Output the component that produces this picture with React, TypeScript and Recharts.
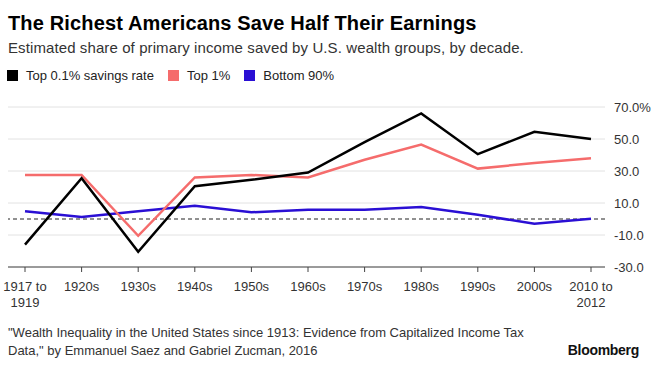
import React from "react";
import {
  LineChart,
  Line,
  XAxis,
  YAxis,
  CartesianGrid,
  ReferenceLine,
} from "recharts";

// Decades on the x axis ("\n" splits the two-line labels)
const decades = [
  "1917 to\n1919",
  "1920s",
  "1930s",
  "1940s",
  "1950s",
  "1960s",
  "1970s",
  "1980s",
  "1990s",
  "2000s",
  "2010 to\n2012",
];

// Savings rates, % of primary income
const top01 = [-16, 25.5, -20.5, 20.5, 24.5, 29, 48, 66, 40.5, 54.5, 50];
const top1 = [27.5, 27.5, -10.5, 26, 27.5, 26, 37, 46.5, 31.5, 35, 38];
const bottom90 = [4.8, 1.2, 4.8, 8.3, 4.2, 5.8, 5.8, 7.5, 2.7, -3, 0.2];

const yTicks = [-30, -20, -10, 0, 10, 20, 30, 40, 50, 60, 70];
const labelledTicks = [-30, -10, 10, 30, 50, 70];

const chartData = decades.map((d, i) => ({
  decade: d,
  top01: top01[i],
  top1: top1[i],
  bottom90: bottom90[i],
}));

const FONT = '"Liberation Sans", Arial, sans-serif';

const legendItems = [
  { name: "Top 0.1% savings rate", color: "#000000" },
  { name: "Top 1%", color: "#f56c6c" },
  { name: "Bottom 90%", color: "#2a0fd4" },
];

const XTick = (props: any) => {
  const { x, y, payload } = props;
  const lines = String(payload.value).split("\n");
  return (
    <text x={x} y={y} textAnchor="middle" fontSize={13} fill="#333" fontFamily={FONT}>
      {lines.map((l, i) => (
        <tspan key={i} x={x} y={y + 17 + i * 15.5}>
          {l}
        </tspan>
      ))}
    </text>
  );
};

const YTick = (props: any) => {
  const { x, y, payload } = props;
  const v = payload.value as number;
  if (!labelledTicks.includes(v)) return null;
  const label = v === 70 ? "70.0%" : v.toFixed(1);
  return (
    <text x={x + 1} y={y + 4.5} textAnchor="start" fontSize={13} fill="#333" fontFamily={FONT}>
      {label}
    </text>
  );
};

export default function App() {
  return (
    <div
      style={{
        position: "absolute",
        left: 0,
        top: 0,
        width: 660,
        height: 377,
        background: "#fff",
        fontFamily: FONT,
        overflow: "hidden",
      }}
    >
      {/* Title block */}
      <div
        style={{
          position: "absolute",
          left: 8,
          top: 12,
          fontSize: 20,
          fontWeight: 700,
          color: "#000",
          letterSpacing: 0.15,
          whiteSpace: "nowrap",
        }}
      >
        The Richest Americans Save Half Their Earnings
      </div>
      <div
        style={{
          position: "absolute",
          left: 8,
          top: 39,
          fontSize: 15,
          color: "#333",
          letterSpacing: 0.1,
          whiteSpace: "nowrap",
        }}
      >
        Estimated share of primary income saved by U.S. wealth groups, by decade.
      </div>

      {/* Legend */}
      <div
        style={{
          position: "absolute",
          left: 7,
          top: 68,
          display: "flex",
          alignItems: "center",
          fontSize: 13,
          color: "#222",
          whiteSpace: "nowrap",
        }}
      >
        {legendItems.map((item) => (
          <div key={item.name} style={{ display: "flex", alignItems: "center", marginRight: 14 }}>
            <div style={{ width: 11, height: 11, background: item.color, marginRight: 8 }} />
            <span>{item.name}</span>
          </div>
        ))}
      </div>

      {/* Chart */}
      <div style={{ position: "absolute", left: 0, top: 0 }}>
        <LineChart
          width={660}
          height={377}
          data={chartData}
          margin={{ top: 107, right: 0, left: 8, bottom: 70 }}
        >
          <CartesianGrid vertical={false} stroke="#e2e2e2" strokeWidth={1} />
          <XAxis
            dataKey="decade"
            interval={0}
            height={40}
            padding={{ left: 17, right: 14 }}
            axisLine={{ stroke: "#444" }}
            tickLine={{ stroke: "#444" }}
            tickSize={5}
            tick={<XTick />}
          />
          <YAxis
            orientation="right"
            type="number"
            domain={[-30, 70]}
            ticks={yTicks}
            width={55}
            axisLine={false}
            tickLine={false}
            tick={<YTick />}
          />
          <ReferenceLine y={0} stroke="#222" strokeDasharray="4 3" strokeWidth={1} />
          <Line
            dataKey="bottom90"
            stroke="#2a0fd4"
            strokeWidth={2.5}
            dot={false}
            isAnimationActive={false}
          />
          <Line
            dataKey="top1"
            stroke="#f56c6c"
            strokeWidth={2.5}
            dot={false}
            isAnimationActive={false}
          />
          <Line
            dataKey="top01"
            stroke="#000"
            strokeWidth={2.5}
            dot={false}
            isAnimationActive={false}
          />
        </LineChart>
      </div>

      {/* Source */}
      <div
        style={{
          position: "absolute",
          left: 8,
          top: 324,
          fontSize: 13,
          lineHeight: "18px",
          color: "#333",
          whiteSpace: "nowrap",
        }}
      >
        "Wealth Inequality in the United States since 1913: Evidence from Capitalized Income Tax
        <br />
        Data," by Emmanuel Saez and Gabriel Zucman, 2016
      </div>
      <div
        style={{
          position: "absolute",
          right: 21,
          top: 342,
          fontSize: 14,
          fontWeight: 700,
          color: "#111",
          letterSpacing: -0.3,
        }}
      >
        Bloomberg
      </div>
    </div>
  );
}
